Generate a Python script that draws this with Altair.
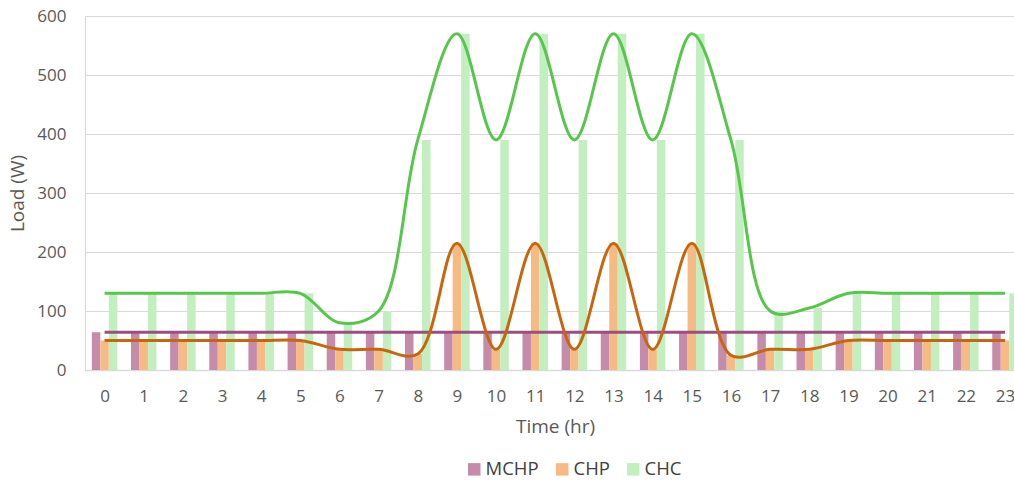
import altair as alt
import pandas as pd

# Hourly load profile (W) for three systems
hours = [0, 1, 2, 3, 4, 5, 6, 7, 8, 9, 10, 11, 12, 13, 14, 15, 16, 17, 18, 19, 20, 21, 22, 23]
mchp = [64, 64, 64, 64, 64, 64, 64, 64, 64, 64, 64, 64, 64, 64, 64, 64, 64, 64, 64, 64, 64, 64, 64, 64]
chp = [50, 50, 50, 50, 50, 50, 35, 35, 27, 215, 35, 215, 35, 215, 35, 215, 25, 35, 35, 50, 50, 50, 50, 50]
chc = [130, 130, 130, 130, 130, 130, 80, 100, 390, 570, 390, 570, 390, 570, 390, 570, 390, 100, 105, 130, 130, 130, 130, 130]

series = ["MCHP", "CHP", "CHC"]
bar_colors = ["#C48BAA", "#F6BB84", "#C3EEC0"]
line_colors = ["#9B4F7F", "#C8660E", "#56C74A"]
y_ticks = [0, 100, 200, 300, 400, 500, 600]

rows = []
for idx, (name, vals) in enumerate(zip(series, [mchp, chp, chc])):
    for h, v in zip(hours, vals):
        rows.append({"hour": h, "series": name, "order": idx, "load": v})
df = pd.DataFrame(rows)

BAR_W = 0.217  # width of one bar in hour units; three bars form a group
TEXT = "#595959"
GRID = "#D9D9D9"

x_scale = alt.Scale(domain=[-0.5, 23.23], nice=False, zero=False, padding=0)
y_scale = alt.Scale(domain=[0, 600], nice=False, padding=0)

x_axis = alt.Axis(
    values=hours, format="d", grid=False, ticks=False, domainColor=GRID, domainWidth=1.5,
    labelPadding=18, labelFontSize=17, labelColor=TEXT, labelFlush=False, labelOverlap=False,
    title="Time (hr)", titleFontSize=19, titleFontWeight="normal", titleColor=TEXT,
    titlePadding=13, titleX=470,
)
y_axis = alt.Axis(
    values=y_ticks, grid=True, gridColor=GRID, gridWidth=1.2, ticks=False,
    domainColor=GRID, domainWidth=1.2,
    labelPadding=19, labelFontSize=17, labelColor=TEXT,
    title="Load (W)", titleFontSize=19, titleFontWeight="normal", titleColor=TEXT,
    titlePadding=9,
)

base = alt.Chart(df)

bars = base.transform_calculate(
    x0=f"datum.hour - {1.5 * BAR_W} + datum.order * {BAR_W}",
    x1=f"datum.hour - {1.5 * BAR_W} + (datum.order + 1) * {BAR_W}",
    floor="0",
).mark_bar(clip=True).encode(
    x=alt.X("x0:Q", scale=x_scale, axis=x_axis),
    x2="x1:Q",
    y=alt.Y("load:Q", scale=y_scale, axis=y_axis),
    y2="floor:Q",
    color=alt.Color(
        "series:N",
        scale=alt.Scale(domain=series, range=bar_colors),
        sort=series,
        legend=alt.Legend(
            title=None, orient="none", legendX=380, legendY=444, direction="horizontal",
            symbolType="square", symbolSize=156, symbolStrokeWidth=0,
            labelFontSize=18.5, labelColor="#404040", labelOffset=2, columnPadding=14,
        ),
    ),
)

lines = [
    base.transform_filter(alt.datum.series == name)
    .mark_line(interpolate="catmull-rom", strokeWidth=3, color=col, clip=True)
    .encode(x=alt.X("hour:Q", scale=x_scale), y=alt.Y("load:Q", scale=y_scale))
    for name, col in zip(series, line_colors)
]

chart = (
    alt.layer(bars, *lines)
    .properties(
        width=929,
        height=354,
        autosize=alt.AutoSizeParams(type="none"),
        padding={"left": 85, "top": 16, "right": 0, "bottom": 111},
        background="white",
    )
    .configure_view(stroke=None)
    .configure(font="Open Sans")
)

chart.save("out.html", embed_options={"renderer": "svg", "actions": False})
